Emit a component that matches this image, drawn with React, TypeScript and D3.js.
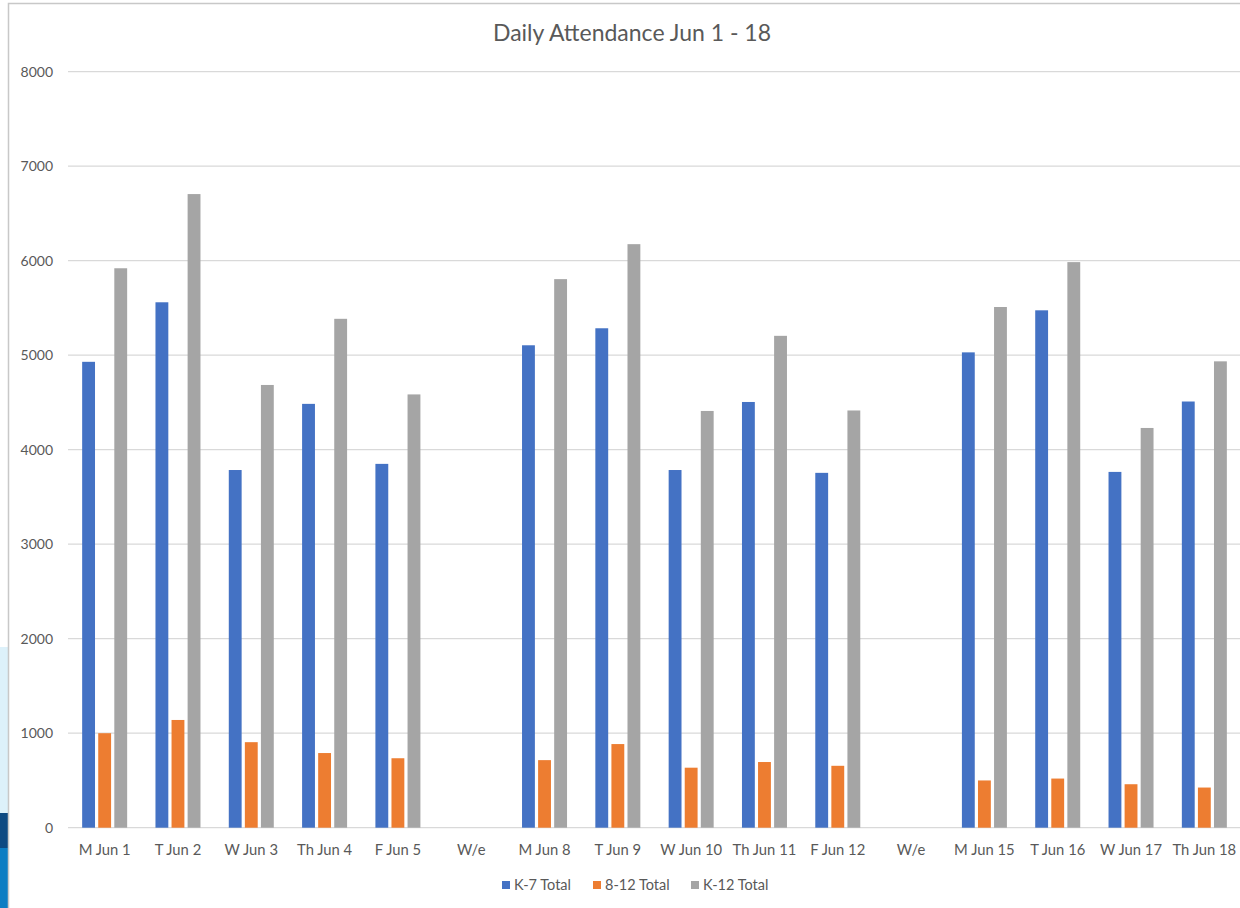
import React from "react";
import * as d3 from "d3";

const categories = ["M Jun 1", "T Jun 2", "W Jun 3", "Th Jun 4", "F Jun 5", "W/e", "M Jun 8", "T Jun 9", "W Jun 10", "Th Jun 11", "F Jun 12", "W/e ", "M Jun 15", "T Jun 16", "W Jun 17", "Th Jun 18"];
const seriesNames = ["K-7 Total", "8-12 Total", "K-12 Total"];
const k7Total = [4930, 5560, 3785, 4485, 3850, null, 5105, 5285, 3785, 4505, 3755, null, 5030, 5475, 3765, 4510];
const g812Total = [1000, 1140, 905, 790, 735, null, 715, 885, 635, 695, 655, null, 500, 520, 460, 425];
const k12Total = [5920, 6705, 4685, 5385, 4585, null, 5805, 6175, 4410, 5205, 4415, null, 5510, 5985, 4230, 4935];
const yTicks = [0, 1000, 2000, 3000, 4000, 5000, 6000, 7000, 8000];
const colors = ["#4472C4", "#ED7D31", "#A5A5A5"];
const title = "Daily Attendance Jun 1 - 18";

export default function App() {
  const W = 1240, H = 908;
  const left = 68, right = 1241, top = 71.7, bottom = 827.7;
  const x = d3.scaleBand<string>().domain(categories).range([left, right]).padding(0);
  const y = d3.scaleLinear().domain([0, 8000]).range([bottom, top]);
  const step = x.bandwidth();
  const x1 = d3.scaleBand<string>().domain(seriesNames).range([step / 2 - 22.5, step / 2 + 22.5]).paddingInner(0.2);
  const data = [k7Total, g812Total, k12Total];
  const font = "Lato, 'Open Sans', sans-serif";
  const textColor = "#595959";

  return (
    <div style={{ position: "absolute", left: 0, top: 0 }}>
      <svg width={W} height={H} style={{ display: "block" }}>
        <rect x={0} y={0} width={W} height={H} fill="#ffffff" />
        {/* slide background decoration at the left edge */}
        <rect x={0} y={647} width={8} height={166} fill="#DDF1FA" />
        <rect x={0} y={813} width={8} height={35} fill="#0E4A82" />
        <rect x={0} y={848} width={8} height={60} fill="#0C7DC3" />
        {/* chart border */}
        <rect x={8.5} y={3.5} width={W} height={H} fill="#ffffff" stroke="#C8C8C8" strokeWidth={1.5} />
        <text x={632} y={41} textAnchor="middle" fontFamily={font} fontSize={23} fill={textColor}>{title}</text>
        {yTicks.map((t) => (
          <g key={t}>
            <line x1={left} x2={1240} y1={y(t)} y2={y(t)} stroke="#D9D9D9" strokeWidth={1.3} />
            <text x={53} y={y(t) + 5} textAnchor="end" fontFamily={font} fontSize={14} fill={textColor}>{t}</text>
          </g>
        ))}
        {categories.map((c, i) => (
          <g key={c} transform={`translate(${x(c)},0)`}>
            {data.map((s, j) => {
              const v = s[i];
              if (v == null) return null;
              return (
                <rect key={j} x={x1(seriesNames[j])} y={y(v)} width={x1.bandwidth()} height={y(0) - y(v)} fill={colors[j]} />
              );
            })}
            <text x={step / 2} y={855} textAnchor="middle" fontFamily={font} fontSize={14.8} fill={textColor}>{c.trim()}</text>
          </g>
        ))}
        {(() => {
          const items = [
            { sx: 502, tx: 514 },
            { sx: 593, tx: 605 },
            { sx: 691, tx: 703 },
          ];
          return seriesNames.map((n, j) => (
            <g key={n}>
              <rect x={items[j].sx} y={881} width={8} height={8} fill={colors[j]} />
              <text x={items[j].tx} y={890} fontFamily={font} fontSize={14.5} fill={textColor}>{n}</text>
            </g>
          ));
        })()}
      </svg>
    </div>
  );
}
